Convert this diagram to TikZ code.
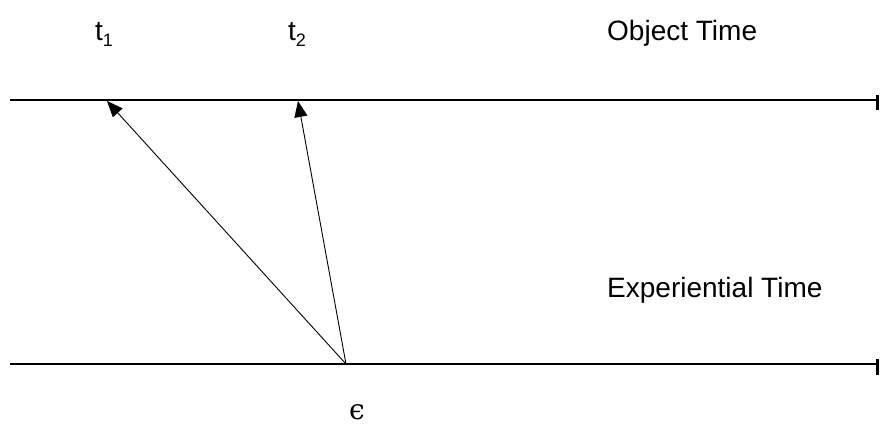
\documentclass[tikz,border=0pt]{standalone}
\usepackage{fontspec}
\setmainfont{Liberation Sans}
\newfontfamily\epsfont{DejaVu Serif}
\usetikzlibrary{arrows.meta}
\begin{document}
\begin{tikzpicture}[x=1pt,y=-1pt,
  lbl/.style={inner sep=0pt,anchor=base west,font=\fontsize{28}{30}\selectfont},
  axisline/.style={line width=1.7pt},
  endbar/.style={fill=black,draw=none},
  ray/.style={line width=0.9pt,-{Triangle[length=16pt,width=13pt]}}]
\useasboundingbox (0,0) rectangle (881,426);
\fill[white] (0,0) rectangle (881,426);
% object time line
\coordinate (ol) at (10,100);
\coordinate (or) at (877,100);
\draw[axisline] (ol) -- (or);
\fill[endbar] (875.5,94.5) rectangle (879,110);
% experiential time line
\coordinate (el) at (10,364);
\coordinate (er) at (877,364);
\draw[axisline] (el) -- (er);
\fill[endbar] (875.5,359) rectangle (879,375);
% arrows
\coordinate (e) at (346,364);
\coordinate (a1) at (107,101);
\coordinate (a2) at (298,101);
\draw[ray] (e) -- (a1);
\draw[ray] (e) -- (a2);
% labels
\node[lbl] (t1) at (95,40) {t\raisebox{-6pt}{\fontsize{18}{18}\selectfont 1}};
\node[lbl] (t2) at (288,40) {t\raisebox{-6pt}{\fontsize{18}{18}\selectfont 2}};
\node[lbl] (ot) at (607,40) {Object Time};
\node[lbl] (et) at (607,297) {Experiential Time};
\node[inner sep=0pt,anchor=base,font=\epsfont\fontsize{28}{30}\selectfont] (eps) at (357,419) {ϵ};
\end{tikzpicture}
\end{document}
